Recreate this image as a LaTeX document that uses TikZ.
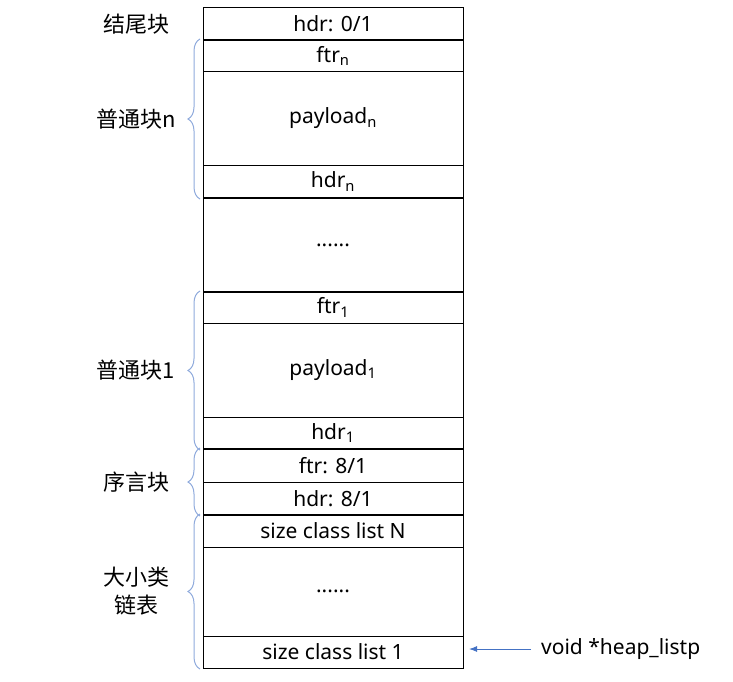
\documentclass[tikz,border=0pt]{standalone}
\usepackage{fontspec}
\setmainfont{Noto Sans}
\newfontfamily\cjk{Noto Sans CJK SC}
\usetikzlibrary{positioning,decorations.pathreplacing,arrows.meta}
\tikzset{>={Latex[length=8pt,width=6pt]}}
\definecolor{bracecol}{RGB}{143,170,220}
\definecolor{ptrcol}{RGB}{68,114,196}

\begin{document}
\begin{tikzpicture}[x=1pt,y=-1pt,
  cell/.style={draw,line width=1pt,minimum width=260pt,minimum height=#1,
    inner sep=0pt,outer sep=0pt,font=\fontsize{21}{25}\selectfont},
  sep/.style={line width=2pt},
  lbl/.style={inner sep=0pt,align=center,font=\cjk\fontsize{22}{28}\selectfont},
  brace/.style={draw=bracecol,line width=1pt,decorate,decoration={brace,amplitude=12pt}}]
  \useasboundingbox (0,0) rectangle (733,682);
  \node[cell=32pt,anchor=north] (tail) at (333,8) {hdr: 0/1};
  \node[cell=32pt,below=0pt of tail] (ftrn) {ftr\textsubscript{n}};
  \node[cell=93pt,below=0pt of ftrn] (payn) {payload\textsubscript{n}};
  \node[cell=33pt,below=0pt of payn] (hdrn) {hdr\textsubscript{n}};
  \node[cell=94pt,below=0pt of hdrn] (gap) {......};
  \node[cell=31pt,below=0pt of gap] (ftra) {ftr\textsubscript{1}};
  \node[cell=94pt,below=0pt of ftra] (paya) {payload\textsubscript{1}};
  \node[cell=32pt,below=0pt of paya] (hdra) {hdr\textsubscript{1}};
  \node[cell=33pt,below=0pt of hdra] (proftr) {ftr: 8/1};
  \node[cell=33pt,below=0pt of proftr] (prohdr) {hdr: 8/1};
  \node[cell=32pt,below=0pt of prohdr] (listN) {size class list N};
  \node[cell=89pt,below=0pt of listN] (listdots) {......};
  \node[cell=32pt,below=0pt of listdots] (lista) {size class list 1};
  \foreach \c in {tail,hdrn,gap,hdra,prohdr}
    \draw[sep] (\c.south west) -- (\c.south east);
  \node[lbl,xshift=-67pt] (lbtail) at (tail.west) {结尾块};
  \draw[brace] ([xshift=-3pt,yshift=-1pt]hdrn.south west) -- ([xshift=-3pt,yshift=1pt]ftrn.north west)
    node[lbl,midway,xshift=-64pt] (lbn) {普通块n};
  \draw[brace] ([xshift=-3pt,yshift=-1pt]hdra.south west) -- ([xshift=-3pt,yshift=1pt]ftra.north west)
    node[lbl,midway,xshift=-64pt] (lba) {普通块1};
  \draw[brace] ([xshift=-3pt,yshift=-1pt]prohdr.south west) -- ([xshift=-3pt,yshift=1pt]proftr.north west)
    node[lbl,midway,xshift=-64pt] (lbpro) {序言块};
  \draw[brace] ([xshift=-3pt,yshift=-1pt]lista.south west) -- ([xshift=-3pt,yshift=1pt]listN.north west)
    node[lbl,midway,xshift=-64pt] (lblist) {大小类\\链表};
  \node[anchor=west,inner sep=0pt,font=\fontsize{21}{25}\selectfont] (ptr) at (541,649) {void *heap\_listp};
  \draw[->,ptrcol,line width=1pt,shorten <=10pt,shorten >=6pt] (ptr.west) -- (ptr.west -| lista.east);
\end{tikzpicture}
\end{document}
